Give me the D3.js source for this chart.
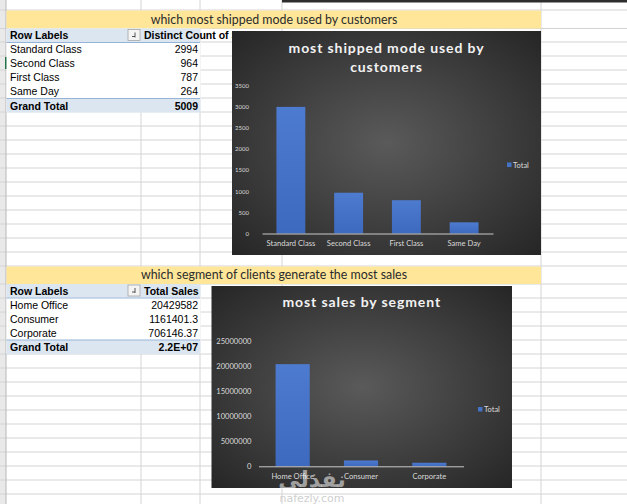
<!DOCTYPE html>
<html>
<head>
<meta charset="utf-8">
<script src="https://cdn.jsdelivr.net/npm/d3@7"></script>
<style>
  body { margin: 0; background: #fff; }
  svg { display: block; }
</style>
</head>
<body>
<div id="container"></div>
<script>
// ---- data ----
const shipModes = ["Standard Class", "Second Class", "First Class", "Same Day"];
const shipCounts = [2994, 964, 787, 264];
const shipTotal = "5009";
const shipTicks = [0, 500, 1000, 1500, 2000, 2500, 3000, 3500];

const segments = ["Home Office", "Consumer", "Corporate"];
const segmentSales = [20429582, 1161401.3, 706146.37];
const segmentTotal = "2.2E+07";
const salesTicks = [0, 5000000, 10000000, 15000000, 20000000, 25000000];

const width = 627;
const height = 504;

const svg = d3.select("#container").append("svg")
  .attr("width", width).attr("height", height);

const defs = svg.append("defs");
const bg = defs.append("radialGradient").attr("id", "chartBg")
  .attr("cx", "50%").attr("cy", "50%").attr("r", "70%");
bg.append("stop").attr("offset", "0%").attr("stop-color", "#5a5a5a");
bg.append("stop").attr("offset", "100%").attr("stop-color", "#262626");

const barGrad = defs.append("linearGradient").attr("id", "barGrad")
  .attr("x1", 0).attr("y1", 0).attr("x2", 0).attr("y2", 1);
barGrad.append("stop").attr("offset", "0%").attr("stop-color", "#4d7bd0");
barGrad.append("stop").attr("offset", "100%").attr("stop-color", "#3d69be");

// ---- worksheet grid ----
const cols = [6, 141, 200, 282, 541];
const rows = [10, 28.5]
  .concat(d3.range(42, 267, 14))
  .concat([284])
  .concat(d3.range(298, 505, 14));

svg.append("rect").attr("x", 0).attr("y", 0).attr("width", 6).attr("height", height)
  .attr("fill", "#e9e9e9");

svg.append("g").selectAll("line").data(rows).enter().append("line")
  .attr("x1", 0).attr("x2", width)
  .attr("y1", d => d).attr("y2", d => d)
  .attr("stroke", "#d4d4d4").attr("stroke-width", 1);

svg.append("g").selectAll("line").data(cols).enter().append("line")
  .attr("x1", d => d).attr("x2", d => d)
  .attr("y1", 0).attr("y2", height)
  .attr("stroke", d => d === 6 ? "#b8b8b8" : "#d4d4d4").attr("stroke-width", 1);

// active cell marker
svg.append("rect").attr("x", 5).attr("y", 57).attr("width", 2).attr("height", 12)
  .attr("fill", "#217346");

// edge of a chart above
svg.append("rect").attr("x", 282).attr("y", 0).attr("width", width - 282).attr("height", 2.5)
  .attr("fill", "#2e2e2e");

// ---- yellow headings ----
function banner(y, h, label) {
  svg.append("rect").attr("x", 6.5).attr("y", y).attr("width", 541 - 6.5).attr("height", h)
    .attr("fill", "#ffe699");
  svg.append("text").attr("x", 274).attr("y", y + h / 2 + 4.2)
    .attr("text-anchor", "middle")
    .style("font-family", "Lato, sans-serif").style("font-size", "12.4px")
    .attr("fill", "#2b2b2b").text(label);
}
banner(10.5, 18, "which most shipped mode used by customers");
banner(266.5, 17.5, "which segment of clients generate the most sales");

// ---- pivot tables ----
function pivot(top, header2, labels, values, total) {
  const rh = 14;
  const g = svg.append("g").style("font-family", "'Liberation Sans', Arial, sans-serif")
    .style("font-size", "10.5px").attr("fill", "#000");
  const bottom = top + rh * (labels.length + 2);
  g.append("rect").attr("x", 6.5).attr("y", top).attr("width", 194).attr("height", bottom - top)
    .attr("fill", "#fff");
  g.append("rect").attr("x", 6.5).attr("y", top).attr("width", 194).attr("height", rh - 0.5)
    .attr("fill", "#dce6f1");
  g.append("rect").attr("x", 6.5).attr("y", bottom - rh).attr("width", 194).attr("height", rh)
    .attr("fill", "#dce6f1");
  g.append("line").attr("x1", 6.5).attr("x2", 200).attr("y1", top + rh).attr("y2", top + rh)
    .attr("stroke", "#95b3d7");
  g.append("line").attr("x1", 6.5).attr("x2", 200).attr("y1", bottom - rh).attr("y2", bottom - rh)
    .attr("stroke", "#95b3d7");

  g.append("text").attr("x", 10).attr("y", top + 10.5).style("font-weight", "bold").text("Row Labels");
  g.append("text").attr("x", 144).attr("y", top + 10.5).style("font-weight", "bold").text(header2);

  // filter button
  g.append("rect").attr("x", 128).attr("y", top + 1).attr("width", 12).attr("height", 11)
    .attr("fill", "#f4f4f4").attr("stroke", "#a6a6a6").attr("stroke-width", 0.8);
  g.append("path").attr("d", `M132,${top + 8} h3 M135,${top + 4} v5`)
    .attr("stroke", "#444").attr("stroke-width", 0.9).attr("fill", "none");

  g.selectAll(".lbl").data(labels).enter().append("text")
    .attr("x", 10).attr("y", (d, i) => top + rh * (i + 1) + 10.5).text(d => d);
  g.selectAll(".val").data(values).enter().append("text")
    .attr("x", 198).attr("y", (d, i) => top + rh * (i + 1) + 10.5)
    .attr("text-anchor", "end").text(d => String(d));

  g.append("text").attr("x", 10).attr("y", bottom - 3).style("font-weight", "bold").text("Grand Total");
  g.append("text").attr("x", 198).attr("y", bottom - 3).attr("text-anchor", "end")
    .style("font-weight", "bold").text(total);
}
pivot(28.5, "Distinct Count of Ship Mode", shipModes, shipCounts, shipTotal);
pivot(284, "Total Sales", segments, segmentSales, segmentTotal);

// ---- charts ----
function barChart(o) {
  const g = svg.append("g").style("font-family", "Lato, 'Open Sans', sans-serif");
  g.append("rect").attr("x", o.x).attr("y", o.y).attr("width", o.w).attr("height", o.h)
    .attr("fill", "url(#chartBg)");

  g.selectAll(".title").data(o.title).enter().append("text")
    .attr("x", o.x + o.w / 2).attr("y", (d, i) => o.titleY + i * 18.5)
    .attr("text-anchor", "middle").attr("fill", "#f2f2f2")
    .style("font-size", "14px").style("font-weight", "bold").style("letter-spacing", "0.9px")
    .text(d => d);

  const xScale = d3.scaleBand().domain(o.cats).range([o.plotL, o.plotR])
    .paddingInner(0.5).paddingOuter(0.25);
  const yScale = d3.scaleLinear().domain([0, d3.max(o.ticks)]).range([o.plotB, o.plotT]);

  const yAxis = d3.axisLeft(yScale).tickValues(o.ticks).tickSize(0).tickPadding(0)
    .tickFormat(d3.format("d"));
  const ya = g.append("g").attr("transform", "translate(" + o.tickX + ",0)").call(yAxis);
  ya.select(".domain").remove();
  ya.selectAll("text").attr("fill", "#d9d9d9").style("font-size", o.tickFont)
    .style("font-family", "Lato, sans-serif");

  g.selectAll(".bar").data(o.vals).enter().append("rect")
    .attr("x", (d, i) => xScale(o.cats[i]))
    .attr("y", d => yScale(d))
    .attr("width", xScale.bandwidth())
    .attr("height", d => o.plotB - yScale(d))
    .attr("fill", "url(#barGrad)");

  const xAxis = d3.axisBottom(xScale).tickSize(0).tickSizeOuter(0).tickPadding(7);
  const xa = g.append("g").attr("transform", "translate(0," + o.plotB + ")").call(xAxis);
  xa.select(".domain").attr("stroke", "#d9d9d9").attr("stroke-width", 0.9);
  xa.selectAll("text").attr("fill", "#d9d9d9").style("font-size", o.catFont)
    .style("font-family", "Lato, sans-serif");

  g.append("rect").attr("x", o.legX).attr("y", o.legY - 2.5).attr("width", 4.5).attr("height", 4.5)
    .attr("fill", "#4472c4");
  g.append("text").attr("x", o.legX + 6).attr("y", o.legY + 2.5).attr("fill", "#d9d9d9")
    .style("font-size", "7.5px").text("Total");
}

barChart({
  x: 232, y: 31, w: 309, h: 224,
  title: ["most shipped mode used by", "customers"], titleY: 53,
  cats: shipModes, vals: shipCounts, ticks: shipTicks,
  plotL: 262, plotR: 493, plotT: 85.5, plotB: 233.5,
  tickX: 249, tickFont: "6px", catFont: "7.6px",
  legX: 507, legY: 165
});

barChart({
  x: 211.5, y: 286, w: 300.5, h: 202,
  title: ["most sales by segment"], titleY: 307,
  cats: segments, vals: segmentSales, ticks: salesTicks,
  plotL: 258.5, plotR: 463.5, plotT: 341.3, plotB: 466.3,
  tickX: 251.5, tickFont: "7.6px", catFont: "7.6px",
  legX: 478, legY: 409.5
});

// site watermark over the lower chart
svg.append("text").attr("x", 312).attr("y", 487).attr("text-anchor", "middle")
  .attr("fill", "#ffffff").attr("fill-opacity", 0.55)
  .style("font-family", "'DejaVu Sans', sans-serif").style("font-size", "22px").style("font-weight", "bold")
  .text("نفذلي");
svg.append("text").attr("x", 312).attr("y", 502).attr("text-anchor", "middle")
  .attr("fill", "#cfcfcf")
  .style("font-family", "'DejaVu Sans', sans-serif").style("font-size", "11px")
  .text("nafezly.com");
</script>
</body>
</html>
